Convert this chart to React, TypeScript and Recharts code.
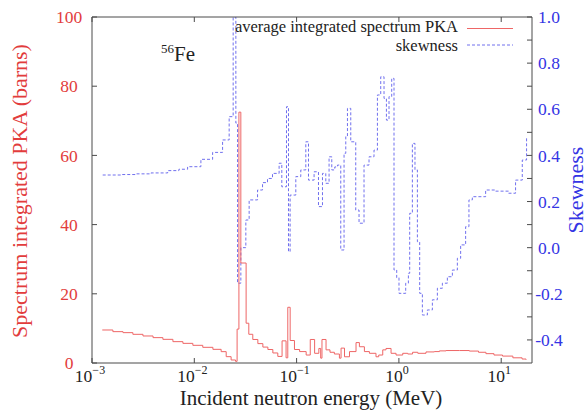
import React from 'react';
import { LineChart, Line, XAxis, YAxis } from 'recharts';

// Average integrated spectrum PKA (barns) vs incident neutron energy (MeV)
const pkaEnergy = [
  0.00126, 0.0016, 0.00201, 0.00251, 0.00315, 0.00395, 0.00493, 0.00618, 0.00774, 0.00968,
  0.0121, 0.0152, 0.0183, 0.0205, 0.0229, 0.0253, 0.0262, 0.0273, 0.0285, 0.0321,
  0.0341, 0.0373, 0.0418, 0.0468, 0.0524, 0.0586, 0.0655, 0.0721, 0.0789, 0.082,
  0.0865, 0.0953, 0.107, 0.124, 0.136, 0.15, 0.165, 0.172, 0.177, 0.194,
  0.212, 0.234, 0.262, 0.272, 0.294, 0.329, 0.381, 0.411, 0.46, 0.515,
  0.597, 0.635, 0.695, 0.748, 0.838, 0.938, 1.09, 1.22, 1.36, 1.53,
  1.84, 2.22, 2.49, 2.89, 3.9, 4.88, 6.0, 7.09, 8.5, 10.3,
  13.0, 16.0, 17.5,
];
const pkaValue = [
  9.54, 9.06, 8.77, 8.29, 7.81, 7.33, 6.84, 6.17, 5.68, 5.11,
  4.53, 3.95, 3.28, 1.83, 0.87, 0.48, 9.8, 72.5, 28.9, 11.5,
  8.3, 6.8, 5.6, 4.6, 3.9, 2.9, 1.9, 6.4, 1.5, 16.1,
  6.5, 3.9, 3.3, 2.3, 6.8, 2.8, 4.2, 1.4, 6.8, 3.8,
  3.1, 2.6, 1.4, 4.3, 1.8, 3.3, 5.9, 4.7, 3.3, 2.8,
  1.8, 2.3, 3.8, 4.2, 2.8, 2.3, 2.8, 2.6, 3.1, 2.8,
  3.2, 3.3, 3.5, 3.6, 3.6, 3.45, 3.1, 2.7, 2.3, 2.0,
  1.5, 1.15, 0.95,
];

// Skewness vs incident neutron energy (MeV)
const skewEnergy = [
  0.001272, 0.00192, 0.00269, 0.00377, 0.00549, 0.00707, 0.0086, 0.0116, 0.0151, 0.0189,
  0.02192, 0.02398, 0.02548, 0.02647, 0.02851, 0.0319, 0.03437, 0.04152, 0.04645, 0.05196,
  0.05813, 0.06746, 0.07168, 0.07965, 0.08331, 0.08643, 0.09822, 0.1099, 0.123, 0.1307,
  0.1482, 0.1636, 0.179, 0.1929, 0.2077, 0.2207, 0.236, 0.2508, 0.2702, 0.291,
  0.3024, 0.3141, 0.3383, 0.3785, 0.4077, 0.4561, 0.5105, 0.5711, 0.6166, 0.6643,
  0.7153, 0.7549, 0.8002, 0.8506, 0.8956, 0.9517, 1.002, 1.165, 1.238, 1.275,
  1.354, 1.436, 1.516, 1.596, 1.696, 1.898, 2.124, 2.377, 2.66, 2.976,
  3.331, 3.727, 4.014, 4.491, 4.838, 5.222, 7.044, 8.817, 11.81, 13.82,
  16.07, 17.7,
];
const skewValue = [
  0.315, 0.317, 0.32, 0.324, 0.334, 0.34, 0.351, 0.383, 0.413, 0.467,
  0.568, 1.0, 0.54, -0.154, 0.0, 0.12, 0.207, 0.25, 0.282, 0.3,
  0.322, 0.366, 0.264, 0.611, -0.017, 0.228, 0.308, 0.337, 0.459, 0.293,
  0.329, 0.178, 0.322, 0.279, 0.394, 0.337, 0.35, 0.358, -0.01, 0.409,
  0.481, 0.604, 0.459, 0.163, 0.106, 0.358, 0.394, 0.423, 0.662, 0.741,
  0.647, 0.553, 0.655, 0.734, -0.097, -0.13, -0.198, -0.154, -0.111, 0.149,
  0.452, 0.337, 0.026, -0.198, -0.292, -0.27, -0.226, -0.176, -0.154, -0.126,
  -0.097, -0.046, 0.012, 0.091, 0.207, 0.221, 0.25, 0.245, 0.236, 0.293,
  0.38, 0.474,
];

const xTicks = [0.001, 0.01, 0.1, 1, 10];
const leftTicks = [0, 20, 40, 60, 80, 100];
const rightTicks = [-0.4, -0.3, -0.2, -0.1, 0, 0.1, 0.2, 0.3, 0.4, 0.5, 0.6, 0.7, 0.8, 0.9, 1.0];
const rightLabeled = [-0.4, -0.2, 0, 0.2, 0.4, 0.6, 0.8, 1.0];

const pkaData = pkaEnergy.map((e, i) => ({ e, v: pkaValue[i] }));
const skewData = skewEnergy.map((e, i) => ({ e, v: skewValue[i] }));

const FONT = 'Liberation Serif';
const RED = '#e23c3c';
const BLUE = '#3434e4';
const FRAME = '#4a4a4a';
const TICK_LEN = 5;

const f = (size: number) => ({ fontFamily: FONT, fontSize: size });

const BottomTick = (props: any) => {
  const { x, y, payload } = props;
  const exp = Math.round(Math.log10(payload.value));
  const expText = exp < 0 ? '\u2212' + String(-exp) : String(exp);
  return (
    <g>
      <line x1={x} y1={y} x2={x} y2={y - TICK_LEN} stroke={FRAME} strokeWidth={1} />
      <text x={x - 2} y={y + 19} textAnchor="middle" style={f(17.5)} fill="#222">
        10<tspan dy={-8} style={f(12)}>{expText}</tspan>
      </text>
    </g>
  );
};

const TopTick = (props: any) => {
  const { x, y } = props;
  return <line x1={x} y1={y} x2={x} y2={y + TICK_LEN} stroke={FRAME} strokeWidth={1} />;
};

const LeftTick = (props: any) => {
  const { x, y, payload } = props;
  return (
    <g>
      <line x1={x} y1={y} x2={x + TICK_LEN} y2={y} stroke={FRAME} strokeWidth={1} />
      <text x={x - 23} y={y} dy="0.35em" textAnchor="middle" style={f(17.5)} fill={RED}>
        {payload.value}
      </text>
    </g>
  );
};

const RightTick = (props: any) => {
  const { x, y, payload } = props;
  const labeled = rightLabeled.some((t) => Math.abs(t - payload.value) < 1e-9);
  return (
    <g>
      <line x1={x} y1={y} x2={x - TICK_LEN} y2={y} stroke={FRAME} strokeWidth={1} />
      {labeled && (
        <text x={x + 17} y={y} dy="0.35em" textAnchor="middle" style={f(17.5)} fill={BLUE}>
          {Number(payload.value).toFixed(1)}
        </text>
      )}
    </g>
  );
};

export default function App() {
  return (
    <div style={{ position: 'absolute', left: 0, top: 0, width: 587, height: 410, background: '#fff' }}>
      <LineChart width={587} height={410} margin={{ top: 16, right: 0, bottom: 0, left: 0 }}>
        <XAxis
          xAxisId="b"
          dataKey="e"
          type="number"
          scale="log"
          domain={[0.001, 20]}
          ticks={xTicks}
          interval={0}
          allowDataOverflow
          height={47}
          tickSize={0}
          tickMargin={0}
          tickLine={false}
          axisLine={{ stroke: FRAME }}
          tick={BottomTick}
        />
        <XAxis
          xAxisId="t"
          orientation="top"
          dataKey="e"
          type="number"
          scale="log"
          domain={[0.001, 20]}
          ticks={xTicks}
          interval={0}
          allowDataOverflow
          height={1}
          tickSize={0}
          tickMargin={0}
          tickLine={false}
          axisLine={{ stroke: FRAME }}
          tick={TopTick}
        />
        <YAxis
          yAxisId="l"
          orientation="left"
          type="number"
          domain={[0, 100]}
          ticks={leftTicks}
          interval={0}
          allowDataOverflow
          width={92}
          tickSize={0}
          tickMargin={0}
          tickLine={false}
          axisLine={{ stroke: FRAME }}
          tick={LeftTick}
        />
        <YAxis
          yAxisId="r"
          orientation="right"
          type="number"
          domain={[-0.5, 1.0]}
          ticks={rightTicks}
          interval={0}
          allowDataOverflow
          width={55}
          tickSize={0}
          tickMargin={0}
          tickLine={false}
          axisLine={{ stroke: FRAME }}
          tick={RightTick}
        />
        <Line
          data={skewData}
          dataKey="v"
          xAxisId="b"
          yAxisId="r"
          type="stepAfter"
          stroke="#7070ee"
          strokeWidth={1}
          strokeDasharray="3 2"
          dot={false}
          activeDot={false}
          isAnimationActive={false}
        />
        <Line
          data={pkaData}
          dataKey="v"
          xAxisId="b"
          yAxisId="l"
          type="stepAfter"
          stroke="#ee6666"
          strokeWidth={1}
          dot={false}
          activeDot={false}
          isAnimationActive={false}
        />
      </LineChart>
      <svg
        width={587}
        height={410}
        style={{ position: 'absolute', left: 0, top: 0, pointerEvents: 'none' }}
      >
        <text transform="translate(27,191) rotate(-90)" textAnchor="middle" style={f(22)} fill={RED}>
          Spectrum integrated PKA (barns)
        </text>
        <text transform="translate(583,190) rotate(-90)" textAnchor="middle" style={f(22)} fill={BLUE}>
          Skewness
        </text>
        <text x={311} y={405} textAnchor="middle" style={f(21)} fill="#222">
          Incident neutron energy (MeV)
        </text>
        <text x={161} y={61} style={f(21)} fill="#222">
          <tspan style={f(13)} dy={-8}>56</tspan>
          <tspan style={f(21)} dy={8}>Fe</tspan>
        </text>
        <text x={458} y={32} textAnchor="end" style={f(16.5)} fill="#222">
          average integrated spectrum PKA
        </text>
        <line x1={467} y1={28.5} x2={513} y2={28.5} stroke="#ee6666" strokeWidth={1} />
        <text x={458} y={50.5} textAnchor="end" style={f(16.5)} fill="#222">
          skewness
        </text>
        <line x1={467} y1={45} x2={513} y2={45} stroke="#7070ee" strokeWidth={1} strokeDasharray="3 2" />
      </svg>
    </div>
  );
}
